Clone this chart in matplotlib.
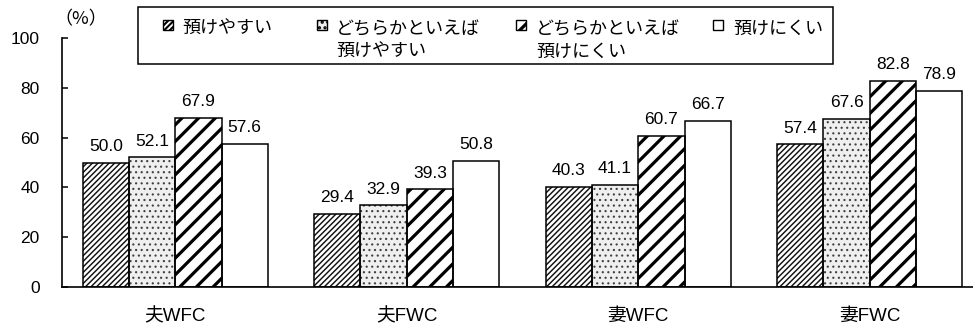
import matplotlib
matplotlib.use("Agg")
import matplotlib.pyplot as plt
from matplotlib.patches import Rectangle
import numpy as np

# ---- data ----
categories = ["夫WFC", "夫FWC", "妻WFC", "妻FWC"]
series_names = ["預けやすい", "どちらかといえば\n預けやすい", "どちらかといえば\n預けにくい", "預けにくい"]
values = {
    "預けやすい": [50.0, 29.4, 40.3, 57.4],
    "どちらかといえば\n預けやすい": [52.1, 32.9, 41.1, 67.6],
    "どちらかといえば\n預けにくい": [67.9, 39.3, 60.7, 82.8],
    "預けにくい": [57.6, 50.8, 66.7, 78.9],
}
yticks = [0, 20, 40, 60, 80, 100]
unit_label = "（%）"

# ---- styles ----
NUM_FONT = ["Liberation Sans", "DejaVu Sans"]
JP_FONT = ["Liberation Sans", "Noto Sans CJK JP", "DejaVu Sans"]
CJK_FIRST = ["Noto Sans CJK JP", "DejaVu Sans"]
# (hatch, face, hatch colour, hatch linewidth)
styles = [
    ("//////", "white", "#111111", 1.05),
    ("...", "#efefef", "#404040", 0.8),
    ("//", "white", "black", 2.3),
    ("", "white", "black", 1.0),
]

W, H = 973, 326
fig = plt.figure(figsize=(W / 100, H / 100), dpi=100)
ax = fig.add_axes([62 / W, 1 - 287 / H, (W - 62) / W, (287 - 38) / H])


def styled_bar(x, h, width, style, edge_lw=1.1):
    hatch, face, hcol, hlw = style
    with plt.rc_context({"hatch.linewidth": hlw}):
        fill = ax.bar(x, h, width, color=face, edgecolor=hcol, linewidth=0,
                      hatch=hatch, zorder=2)
    for p in fill.patches:
        if hasattr(p, "set_hatch_linewidth"):
            p.set_hatch_linewidth(hlw)
    ax.bar(x, h, width, fill=False, edgecolor="black",
           linewidth=edge_lw, zorder=3)
    return fill


xc = np.arange(len(categories))
bw = 0.2
for i, name in enumerate(series_names):
    xs = xc + (i - 1.5) * bw
    vals = values[name]
    styled_bar(xs, vals, bw, styles[i])
    for x, v in zip(xs, vals):
        ax.text(x, v + 3.4, f"{v:.1f}", ha="center", va="bottom",
                fontsize=12.5, family=NUM_FONT, color="black")

ax.set_xlim(-0.489, 3.446)
ax.set_ylim(0, 100)
ax.set_yticks(yticks)
ax.set_yticklabels([str(t) for t in yticks], family=NUM_FONT, fontsize=12.5)
ax.tick_params(axis="y", direction="in", length=4, width=1.1, pad=16)
ax.set_xticks(xc)
ax.set_xticklabels(categories, family=JP_FONT, fontsize=13.5)
ax.tick_params(axis="x", length=0, pad=15)
for s in ("top", "right"):
    ax.spines[s].set_visible(False)
ax.spines["left"].set_linewidth(1.2)
ax.spines["bottom"].set_linewidth(1.2)

fig.text(54 / W, 1 - 19 / H, unit_label, ha="left", va="center",
         family=CJK_FIRST, fontsize=13)


# ---- legend, drawn in figure pixel coordinates ----
def fx(x):
    return x / W


def fy(y):
    return 1 - y / H


frame = Rectangle((fx(138), fy(64)), (833 - 138) / W, (64 - 7) / H,
                  transform=fig.transFigure, facecolor="white",
                  edgecolor="black", linewidth=1.1, zorder=5)
fig.add_artist(frame)

marker_x = [163, 317, 516, 713]
text_x = [182, 336, 536, 733]
for i, name in enumerate(series_names):
    hatch, face, hcol, hlw = styles[i]
    mk = Rectangle((fx(marker_x[i]), fy(30)), 10 / W, 10 / H,
                   transform=fig.transFigure, facecolor=face if hatch else "white",
                   edgecolor="black", hatch=hatch, linewidth=1.0, zorder=6)
    if hasattr(mk, "set_hatch_linewidth"):
        mk.set_hatch_linewidth(max(hlw, 1.5))
    fig.add_artist(mk)
    for j, line in enumerate(name.split("\n")):
        fig.text(fx(text_x[i]), fy(34 + 23 * j), line, ha="left", va="baseline",
                 family=JP_FONT, fontsize=13, zorder=7)

fig.savefig("out.png", dpi=100)
